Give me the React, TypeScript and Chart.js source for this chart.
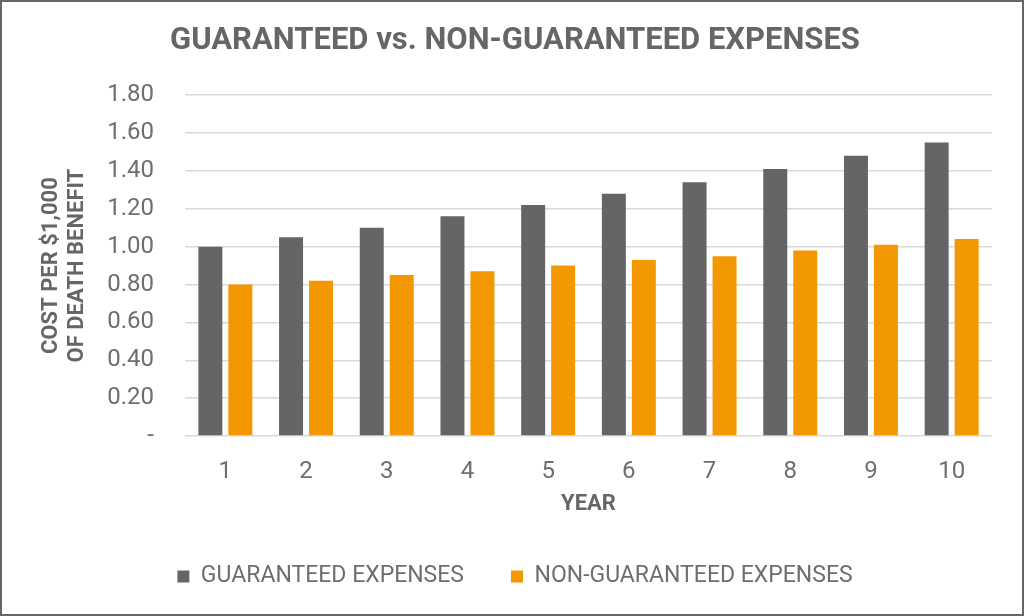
import React, { useEffect, useRef } from "react";
import { Chart, registerables } from "chart.js";

Chart.register(...registerables);

const years = ["1", "2", "3", "4", "5", "6", "7", "8", "9", "10"];
const guaranteed = [1.0, 1.05, 1.1, 1.16, 1.22, 1.28, 1.34, 1.41, 1.48, 1.55];
const nonGuaranteed = [0.8, 0.82, 0.85, 0.87, 0.9, 0.93, 0.95, 0.98, 1.01, 1.04];
const seriesNames = ["GUARANTEED EXPENSES", "NON-GUARANTEED EXPENSES"];
const chartTitle = "GUARANTEED vs. NON-GUARANTEED EXPENSES";
const yTitle = ["COST PER $1,000", "OF DEATH BENEFIT"];
const xTitle = "YEAR";

const GRAY = "#646567";
const ORANGE = "#F39800";
const TEXT = "#6e6e6e";
const TITLE_TEXT = "#666666";
const FONT = "Roboto";

export default function App() {
  const ref = useRef<HTMLCanvasElement | null>(null);

  useEffect(() => {
    if (!ref.current) return;
    const chart = new Chart(ref.current, {
      type: "bar",
      data: {
        labels: years,
        datasets: [
          {
            label: seriesNames[0],
            data: guaranteed,
            backgroundColor: GRAY,
            barPercentage: 0.8,
            categoryPercentage: 0.743,
          },
          {
            label: seriesNames[1],
            data: nonGuaranteed,
            backgroundColor: ORANGE,
            barPercentage: 0.8,
            categoryPercentage: 0.743,
          },
        ],
      },
      options: {
        responsive: false,
        animation: false,
        devicePixelRatio: 1,
        layout: { padding: { left: 38, right: 32, top: 0, bottom: 18 } },
        plugins: {
          title: {
            display: true,
            text: chartTitle,
            color: TITLE_TEXT,
            font: { family: FONT, size: 31, weight: "bold", lineHeight: 1.2 },
            padding: { top: 23, bottom: 35 },
          },
          legend: {
            position: "bottom",
            labels: {
              color: TEXT,
              font: { family: FONT, size: 23 },
              boxWidth: 12,
              boxHeight: 12,
              padding: 47,
            },
          },
          tooltip: { enabled: false },
        },
        scales: {
          x: {
            grid: { display: false },
            border: { display: false },
            ticks: {
              color: TEXT,
              font: { family: FONT, size: 24 },
              padding: 14,
            },
            title: {
              display: true,
              text: xTitle,
              color: TITLE_TEXT,
              font: { family: FONT, size: 22, weight: "bold", lineHeight: 1.25 },
              padding: { top: 0, bottom: 0 },
            },
            afterFit: (scale: any) => {
              scale.height = 82;
            },
          },
          y: {
            min: 0,
            max: 1.8,
            grid: { color: "#d9d9d9", lineWidth: 1.5, drawTicks: false },
            border: { display: false },
            ticks: {
              stepSize: 0.2,
              color: TEXT,
              font: { family: FONT, size: 24 },
              padding: 31,
              callback: (v: any) => (Math.abs(Number(v)) < 1e-9 ? "-" : Number(v).toFixed(2)),
            },
            title: {
              display: true,
              text: yTitle,
              color: TITLE_TEXT,
              font: { family: FONT, size: 22, weight: "bold", lineHeight: 1.2 },
              padding: { top: 0, bottom: 0 },
            },
            afterFit: (scale: any) => {
              scale.width = 147;
            },
          },
        },
      },
    });
    return () => chart.destroy();
  }, []);

  return (
    <div style={{ position: "absolute", left: 0, top: 0, width: 1024, height: 616, background: "#fff" }}>
      <canvas ref={ref} width={1024} height={616} style={{ display: "block", width: 1024, height: 616 }} />
      <div
        style={{
          position: "absolute",
          left: 0,
          top: 0,
          width: 1024,
          height: 616,
          boxSizing: "border-box",
          border: "2px solid #666",
          pointerEvents: "none",
        }}
      />
    </div>
  );
}
